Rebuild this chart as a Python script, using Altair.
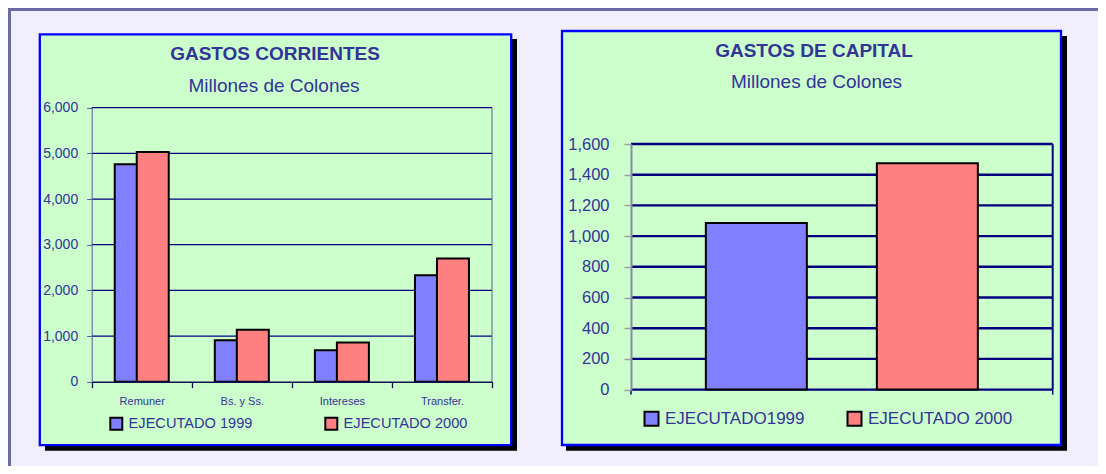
import altair as alt
import pandas as pd

# ---------------- data ----------------
categories = ["Remuner", "Bs. y Ss.", "Intereses", "Transfer."]
corr_1999 = [4760, 905, 690, 2330]
corr_2000 = [5030, 1135, 860, 2700]
corr_series = ["EJECUTADO 1999", "EJECUTADO 2000"]
corr_ticks = [0, 1000, 2000, 3000, 4000, 5000, 6000]

cap_series = ["EJECUTADO1999", "EJECUTADO 2000"]
cap_values = [1085, 1475]
cap_ticks = [0, 200, 400, 600, 800, 1000, 1200, 1400, 1600]

titles = ["GASTOS CORRIENTES", "GASTOS DE CAPITAL"]
subtitles = ["Millones de Colones", "Millones de Colones"]

# ---------------- style ----------------
FONT = "Liberation Sans"
TEXT = "#333399"
GREEN = "#CCFFCC"
BLUE = "#0000FF"
LAV = "#F1EEFD"
FRAME = "#6B6BA6"
NAVY = "#000080"
BAR1 = "#8080FF"
BAR2 = "#FF8080"
W, H = 1090, 458

one = pd.DataFrame({"k": [0]})


def box(x, x2, y, y2, **kw):
    return alt.Chart(one).mark_rect(**kw).encode(
        x=alt.value(x), x2=alt.value(x2), y=alt.value(y), y2=alt.value(y2))


def rule(x, x2, y, y2, **kw):
    return alt.Chart(one).mark_rule(**kw).encode(
        x=alt.value(x), x2=alt.value(x2), y=alt.value(y), y2=alt.value(y2))


# ---------------- decorations ----------------
frame_top = rule(0, W, 1.2, 1.2, color=FRAME, strokeWidth=3.6)
frame_left = rule(1.2, 1.2, 0, H, color=FRAME, strokeWidth=3.6)
shadow_l = box(37, 509, 31, 442.7, fill="black")
panel_l = box(31.8, 503.2, 26.4, 437.2, fill=GREEN, stroke=BLUE, strokeWidth=2.3)
shadow_r = box(558, 1059, 28, 442.7, fill="black")
panel_r = box(554, 1053, 23, 437, fill=GREEN, stroke=BLUE, strokeWidth=2.3)


def text_layer(txt, x, y, size, bold):
    return alt.Chart(pd.DataFrame({"t": [txt]})).mark_text(
        font=FONT, fontSize=size, fontWeight="bold" if bold else "normal",
        color=TEXT, align="center", baseline="alphabetic"
    ).encode(text="t:N", x=alt.value(x), y=alt.value(y))


t1 = text_layer(titles[0], 267, 52, 19, True)
s1 = text_layer(subtitles[0], 266, 84, 19, False)
t2 = text_layer(titles[1], 806, 49, 19, True)
s2 = text_layer(subtitles[1], 808.5, 80, 19, False)

# ---------------- left panel ----------------
LX0, LX1, LYB, LYT = 83.7, 484.0, 373.7, 99.7
corr_df = pd.DataFrame({
    "cat": categories * 2,
    "serie": [corr_series[0]] * 4 + [corr_series[1]] * 4,
    "val": corr_1999 + corr_2000,
})

x_l = alt.X("cat:N", sort=categories, title=None,
            scale=alt.Scale(range=[LX0, LX1], paddingInner=0, paddingOuter=0),
            axis=alt.Axis(orient="bottom", offset=-(H - LYB), tickBand="extent",
                          labelFont=FONT, labelFontSize=11, labelColor=TEXT,
                          labelAngle=0, labelPadding=8, domainColor="#101050",
                          domainWidth=1.5, tickColor="#101050", tickSize=6,
                          tickWidth=1.3, grid=False, zindex=1))
y_scale_l = alt.Scale(domain=[0, 6000], range=[LYB, LYT], nice=False, zero=True)
y_l = alt.Y("val:Q", title=None, scale=y_scale_l,
            axis=alt.Axis(orient="left", offset=-LX0, values=corr_ticks, format=",d",
                          labelFont=FONT, labelFontSize=14, labelColor=TEXT,
                          labelPadding=9, domainColor="#5A5AA8", tickColor="#5A5AA8",
                          tickSize=5, grid=False, zindex=1))
color_l = alt.Color("serie:N", scale=alt.Scale(domain=corr_series, range=[BAR1, BAR2]),
                    legend=alt.Legend(orient="none", legendX=101, legendY=408,
                                      direction="horizontal", title=None,
                                      symbolType="square", symbolSize=144,
                                      symbolStrokeColor="black", symbolStrokeWidth=2,
                                      symbolOpacity=1, labelFont=FONT, labelFontSize=14.6,
                                      labelColor=TEXT, labelOffset=5, columnPadding=68,
                                      padding=0, zindex=1))

grid_l = alt.Chart(pd.DataFrame({"val": corr_ticks[1:]})).mark_rule(
    color=NAVY, strokeWidth=1.2).encode(
    y=y_l, x=alt.value(LX0), x2=alt.value(LX1))
edge_l = rule(LX1, LX1, LYT, LYB, color="#5A5AA8", strokeWidth=1)

bars99 = alt.Chart(corr_df).transform_filter(
    alt.datum.serie == corr_series[0]).mark_bar(
    size=32, xOffset=-11, stroke="black", strokeWidth=2, opacity=1).encode(
    x=x_l, y=y_l, color=color_l)
bars00 = alt.Chart(corr_df).transform_filter(
    alt.datum.serie == corr_series[1]).mark_bar(
    size=32, xOffset=11, stroke="black", strokeWidth=2, opacity=1).encode(
    x=x_l, y=y_l, color=color_l)

left = alt.layer(grid_l, edge_l, bars99, bars00)

# ---------------- right panel ----------------
RX0, RX1, RYB, RYT = 623.0, 1044.7, 381.6, 136.0
cap_df = pd.DataFrame({"serie": cap_series, "val": cap_values})

y_scale_r = alt.Scale(domain=[0, 1600], range=[RYB, RYT], nice=False, zero=True)
x_r = alt.X("serie:N", sort=cap_series, title=None,
            scale=alt.Scale(range=[RX0, RX1], paddingInner=0, paddingOuter=0.233),
            axis=None)
y_r = alt.Y("val:Q", title=None, scale=y_scale_r,
            axis=alt.Axis(orient="left", offset=-RX0, values=cap_ticks, format=",d",
                          labelFont=FONT, labelFontSize=16.5, labelColor=TEXT,
                          labelPadding=15, domainColor="#8888AA", domainWidth=2,
                          tickColor="#A0A0A0", tickSize=7, tickWidth=1.5,
                          grid=False, zindex=1))
color_r = alt.Color("serie:N", scale=alt.Scale(domain=cap_series, range=[BAR1, BAR2]),
                    legend=alt.Legend(orient="none", legendX=635, legendY=402,
                                      direction="horizontal", title=None,
                                      symbolType="square", symbolSize=196,
                                      symbolStrokeColor="black", symbolStrokeWidth=2,
                                      symbolOpacity=1, labelFont=FONT, labelFontSize=17,
                                      labelColor=TEXT, labelOffset=5, columnPadding=38,
                                      padding=0, zindex=1))

grid_r = alt.Chart(pd.DataFrame({"val": cap_ticks})).mark_rule(
    color=NAVY, strokeWidth=2.4).encode(
    y=y_r, x=alt.value(RX0), x2=alt.value(RX1))
edge_r = rule(RX1, RX1, RYT, RYB, color=NAVY, strokeWidth=2)
tick_r0 = rule(RX0, RX0, RYB, RYB + 5, color=NAVY, strokeWidth=1.5)
tick_r1 = rule(RX1, RX1, RYB, RYB + 5, color=NAVY, strokeWidth=1.5)

bars_r = alt.Chart(cap_df).mark_bar(size=101, stroke="black", strokeWidth=2, opacity=1).encode(
    x=x_r, y=y_r, color=color_r)

right = alt.layer(grid_r, edge_r, tick_r0, tick_r1, bars_r)

# ---------------- compose ----------------
chart = alt.layer(
    frame_top, frame_left, shadow_l, panel_l, shadow_r, panel_r,
    t1, s1, t2, s2, left, right
).resolve_scale(
    x="independent", y="independent", color="independent"
).resolve_axis(
    x="independent", y="independent"
).resolve_legend(
    color="independent"
).properties(
    width=W, height=H, padding=0,
    autosize=alt.AutoSizeParams(type="none"),
    background=LAV,
).configure_view(strokeWidth=0, fill=None)

chart.save("out.html", embed_options={"renderer": "svg", "actions": False})
